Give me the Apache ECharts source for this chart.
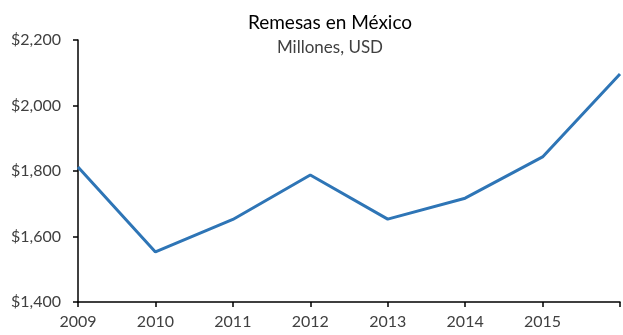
<!DOCTYPE html>
<html><head><meta charset="utf-8">
<script src="https://cdn.jsdelivr.net/npm/echarts@6/dist/echarts.min.js"></script>
<style>html,body{margin:0;padding:0;background:#fff}#c{width:623px;height:335px}</style>
</head><body><div id="c"></div>
<script>
const years = ['2009','2010','2011','2012','2013','2014','2015','2016'];
const remesas = [1812, 1553, 1652, 1788, 1653, 1717, 1843, 2096];
const yTicks = [1400, 1600, 1800, 2000, 2200];
const titleText = 'Remesas en México';
const subtitleText = 'Millones, USD';

const chart = echarts.init(document.getElementById('c'), null, {renderer:'canvas'});
const font = "Lato, 'Open Sans', sans-serif";
chart.setOption({
  animation:false,
  backgroundColor:'#fff',
  title:{
    text:titleText, subtext:subtitleText, left:325, textAlign:'center', top:8, itemGap:7,
    textStyle:{fontFamily:font, fontSize:19, fontWeight:'normal', color:'#000'},
    subtextStyle:{fontFamily:font, fontSize:17, color:'#404040'}
  },
  grid:{left:78, right:1, top:40, bottom:33, containLabel:false},
  xAxis:{
    type:'category', data:years, boundaryGap:false,
    axisLine:{lineStyle:{color:'#000', width:1.5}},
    axisTick:{show:true, length:5, alignWithLabel:true, lineStyle:{color:'#000', width:1.5}},
    axisLabel:{fontFamily:font, fontSize:16, color:'#404040', margin:12,
      formatter:(v,i)=> i===years.length-1 ? '' : v}
  },
  yAxis:{
    type:'value', min:yTicks[0], max:yTicks[yTicks.length-1], interval:200,
    splitLine:{show:false},
    axisLine:{show:true, lineStyle:{color:'#000', width:1.5}},
    axisTick:{show:true, length:5, lineStyle:{color:'#000', width:1.5}},
    axisLabel:{fontFamily:font, fontSize:16, color:'#404040', margin:17,
      formatter:v=>'$'+v.toLocaleString('en-US')}
  },
  series:[{
    type:'line', data:remesas, symbol:'none', smooth:false,
    lineStyle:{color:'#2E75B6', width:3}
  }]
});
</script></body></html>
